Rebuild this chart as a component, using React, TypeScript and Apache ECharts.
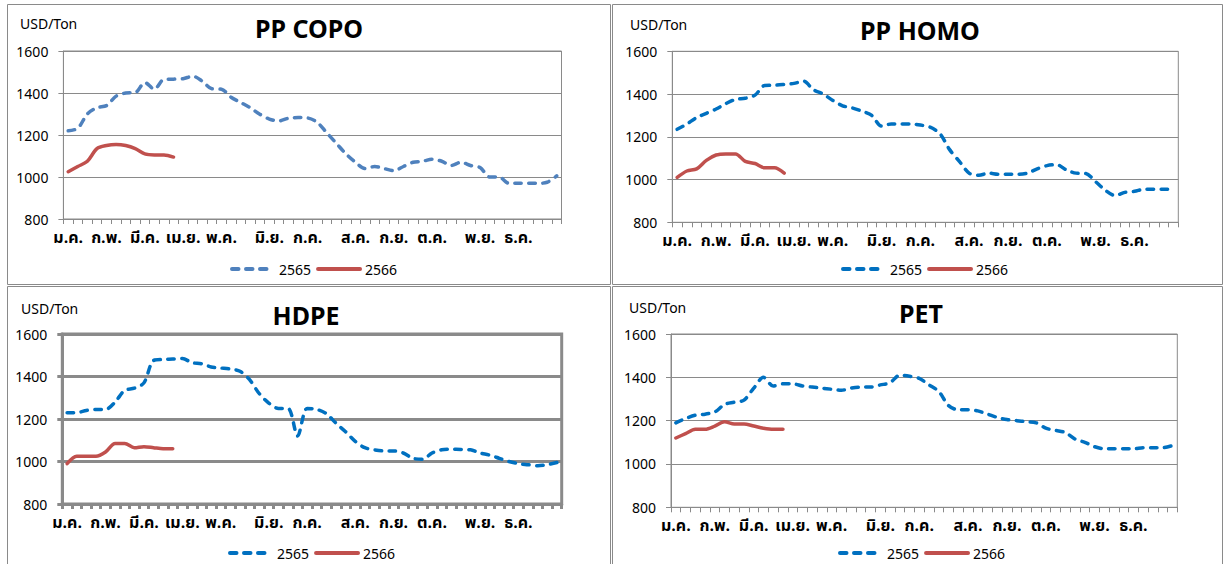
import React, { useEffect, useRef } from "react";
import * as echarts from "echarts";

// ---------- data ----------
const months = ["ม.ค.", "ก.พ.", "มี.ค.", "เม.ย.", "พ.ค.", "มิ.ย.", "ก.ค.", "ส.ค.", "ก.ย.", "ต.ค.", "พ.ย.", "ธ.ค."];
const weeksPerMonth = [4, 4, 4, 4, 5, 4, 5, 4, 4, 5, 4, 5];
const yTicks = [800, 1000, 1200, 1400, 1600];
const seriesNames = ["2565", "2566"];
const unitLabel = "USD/Ton";

const ppCopo2565 = [
  1220, 1232, 1300, 1330, 1340, 1385, 1400, 1402, 1450, 1418, 1465, 1466, 1468,
  1480, 1456, 1420, 1418, 1380, 1355, 1330, 1299, 1276, 1267, 1280, 1283, 1281,
  1260, 1210, 1160, 1110, 1070, 1040, 1050, 1040, 1030, 1050, 1070, 1075, 1085,
  1075, 1055, 1070, 1055, 1045, 1000, 1000, 970, 970, 970, 970, 975, 1005,
];
const ppCopo2566 = [1025, 1050, 1075, 1135, 1150, 1155, 1150, 1135, 1110, 1105, 1105, 1095];

const ppHomo2565 = [
  1235, 1260, 1290, 1310, 1330, 1355, 1375, 1380, 1395, 1440, 1441, 1445, 1450,
  1460, 1420, 1400, 1370, 1345, 1335, 1320, 1300, 1250, 1260, 1260, 1260, 1255,
  1245, 1215, 1140, 1085, 1030, 1020, 1030, 1025, 1025, 1025, 1030, 1050, 1065,
  1070, 1045, 1030, 1028, 990, 950, 925, 940, 945, 955, 955, 955, 955,
];
const ppHomo2566 = [1010, 1040, 1050, 1090, 1115, 1120, 1120, 1085, 1075, 1055, 1055, 1030];

const hdpe2565 = [
  1230, 1230, 1240, 1245, 1245, 1280, 1335, 1345, 1370, 1475, 1480, 1482, 1485,
  1465, 1460, 1445, 1440, 1435, 1425, 1385, 1320, 1275, 1250, 1250, 1120, 1250,
  1245, 1225, 1180, 1140, 1095, 1065, 1055, 1050, 1050, 1040, 1015, 1010, 1040,
  1055, 1058, 1057, 1055, 1040, 1030, 1015, 1000, 990, 985, 980, 985, 995,
];
const hdpe2566 = [990, 1025, 1025, 1025, 1045, 1085, 1085, 1065, 1070, 1065, 1060, 1060];

const pet2565 = [
  1190, 1210, 1225, 1230, 1240, 1275, 1285, 1295, 1350, 1400, 1360, 1370, 1370,
  1360, 1355, 1350, 1345, 1340, 1350, 1355, 1355, 1365, 1375, 1410, 1405, 1395,
  1365, 1335, 1270, 1250, 1250, 1245, 1230, 1215, 1205, 1200, 1195, 1190, 1165,
  1155, 1145, 1115, 1100, 1080, 1070, 1070, 1070, 1070, 1075, 1075, 1075, 1085,
];
const pet2566 = [1120, 1140, 1160, 1160, 1175, 1195, 1185, 1185, 1175, 1165, 1160, 1160];

// categories: one per week, month name shown on the first week of each month
const categories = months.flatMap((m, mi) =>
  Array.from({ length: weeksPerMonth[mi] }, (_, w) => `${m}|${w + 1}`)
);

// ---------- layout ----------
const FONT = "'Noto Sans', 'DejaVu Sans', sans-serif";
const THAI_FONT = "'Noto Sans Thai', 'Noto Sans Thai UI', 'Noto Sans', 'DejaVu Sans', sans-serif";
const GRAY = "#8a8a8a";
const RED = "#C0504D";

const panels = [
  {
    title: "PP COPO", blue: "#4F81BD", d65: ppCopo2565, d66: ppCopo2566,
    box: [7, 4, 603, 280], grid: [63.4, 51, 498.1, 168], titlePos: [309, 28], unitPos: [20, 23],
    legendPos: [230, 269], heavy: false,
  },
  {
    title: "PP HOMO", blue: "#0070C0", d65: ppHomo2565, d66: ppHomo2566,
    box: [612, 4, 610, 280], grid: [672.3, 51.3, 506, 171], titlePos: [920, 30], unitPos: [630, 24],
    legendPos: [841, 269], heavy: false,
  },
  {
    title: "HDPE", blue: "#0070C0", d65: hdpe2565, d66: hdpe2566,
    box: [7, 286, 603, 290], grid: [62.3, 334, 499.4, 170], titlePos: [306, 315], unitPos: [21, 308],
    legendPos: [228, 553], heavy: true,
  },
  {
    title: "PET", blue: "#0070C0", d65: pet2565, d66: pet2566,
    box: [612, 286, 610, 290], grid: [671, 334, 506.3, 173.3], titlePos: [921, 313], unitPos: [629, 307],
    legendPos: [838, 553], heavy: false,
  },
];

function buildOption() {
  const grid = panels.map((p) => ({
    left: p.grid[0], top: p.grid[1], width: p.grid[2], height: p.grid[3],
    show: true, borderColor: GRAY, borderWidth: p.heavy ? 3 : 1, backgroundColor: "transparent",
  }));
  const xAxis = panels.map((p, k) => {
    const w = p.heavy ? 3 : 1;
    return {
      type: "category", gridIndex: k, data: categories, boundaryGap: true,
      axisLine: { show: true, lineStyle: { color: GRAY, width: w } },
      axisTick: { show: true, interval: 0, length: 5, lineStyle: { color: GRAY, width: w } },
      axisLabel: {
        interval: 0, color: "#000", fontSize: 16, fontWeight: "bold", margin: 11, fontFamily: THAI_FONT,
        formatter: (v: string) => { const [m, wk] = v.split("|"); return wk === "1" ? m : ""; },
      },
      splitLine: { show: false },
    };
  });
  const yAxis = panels.map((p, k) => {
    const w = p.heavy ? 3 : 1;
    return {
      type: "value", gridIndex: k, min: yTicks[0], max: yTicks[yTicks.length - 1],
      interval: yTicks[1] - yTicks[0],
      axisLine: { show: true, lineStyle: { color: GRAY, width: w } },
      axisTick: { show: true, length: 5, lineStyle: { color: GRAY, width: w } },
      axisLabel: {
        color: "#000", fontSize: 14, margin: 15, fontFamily: FONT,
        formatter: (v: number) => String(v),
      },
      splitLine: { show: true, lineStyle: { color: GRAY, width: w } },
    };
  });
  const series: any[] = [];
  panels.forEach((p, k) => {
    series.push({
      type: "line", name: `${seriesNames[0]}|${k}`, xAxisIndex: k, yAxisIndex: k, data: p.d65,
      symbol: "none", smooth: 0.3,
      lineStyle: { color: p.blue, width: 3.5, type: [6.5, 7.5], cap: "round", join: "round" },
      itemStyle: { color: p.blue },
    });
    series.push({
      type: "line", name: `${seriesNames[1]}|${k}`, xAxisIndex: k, yAxisIndex: k, data: p.d66,
      symbol: "none", smooth: 0.3,
      lineStyle: { color: RED, width: 3.5, type: "solid", cap: "round", join: "round" },
      itemStyle: { color: RED },
    });
  });
  const legend = panels.map((p, k) => ({
    data: seriesNames.map((n) => `${n}|${k}`),
    formatter: (n: string) => n.split("|")[0],
    left: p.legendPos[0], top: p.legendPos[1] - 7, padding: 0,
    itemWidth: 42, itemHeight: 14, itemGap: 5, selectedMode: false,
    itemStyle: { opacity: 0 },
    lineStyle: { width: 4 },
    textStyle: { fontSize: 14, color: "#000", fontFamily: FONT },
  }));
  const graphic: any[] = [];
  panels.forEach((p) => {
    graphic.push({
      type: "rect", silent: true,
      shape: { x: p.box[0] + 0.5, y: p.box[1] + 0.5, width: p.box[2], height: p.box[3] },
      style: { fill: "none", stroke: GRAY, lineWidth: 1 },
    });
    graphic.push({
      type: "text", silent: true, x: p.titlePos[0], y: p.titlePos[1],
      style: {
        text: p.title, fill: "#000", font: `bold 25px ${FONT}`,
        textAlign: "center", textVerticalAlign: "middle",
      },
    });
    graphic.push({
      type: "text", silent: true, x: p.unitPos[0], y: p.unitPos[1],
      style: {
        text: unitLabel, fill: "#000", font: `14px ${FONT}`,
        textAlign: "left", textVerticalAlign: "middle",
      },
    });
  });
  return {
    animation: false,
    backgroundColor: "#fff",
    textStyle: { fontFamily: FONT },
    grid, xAxis, yAxis, series, legend, graphic,
  };
}

export default function App() {
  const ref = useRef<HTMLDivElement>(null);
  useEffect(() => {
    if (!ref.current) return;
    const chart = echarts.init(ref.current, undefined, { renderer: "svg" });
    chart.setOption(buildOption() as any);
    return () => chart.dispose();
  }, []);
  return (
    <div
      ref={ref}
      style={{ position: "fixed", left: 0, top: 0, width: 1224, height: 564, background: "#fff" }}
    />
  );
}
